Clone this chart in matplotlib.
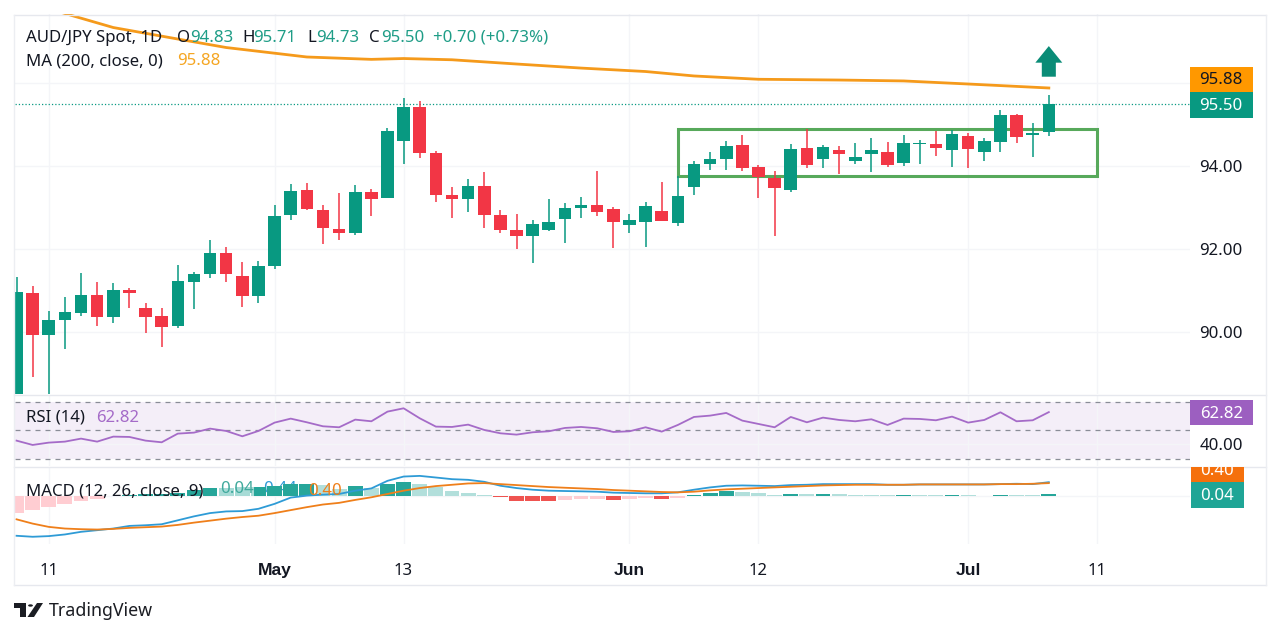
import numpy as np
import matplotlib
matplotlib.use("Agg")
import matplotlib.pyplot as plt
from matplotlib.patches import Circle, FancyArrow, Polygon, Rectangle

plt.rcParams['font.family'] = ['Noto Sans', 'DejaVu Sans']

W, H = 1280, 636

# daily candles
opens = [88.40, 90.94, 89.92, 90.281, 90.466, 90.883, 90.361, 91.012, 90.586, 90.377,
         90.145, 91.213, 91.406, 91.904, 91.341, 90.859, 91.582, 92.811, 93.413, 92.948,
         92.474, 92.393, 93.365, 93.237, 94.602, 95.421, 94.321, 93.301, 93.205, 93.526,
         92.811, 92.458, 92.305, 92.458, 92.723, 92.996, 93.068, 92.964, 92.578, 92.642,
         92.924, 92.627, 93.494, 94.048, 94.177, 94.506, 93.976, 93.719, 93.422, 94.434,
         94.169, 94.378, 94.129, 94.289, 94.329, 94.072, 94.522, 94.522, 94.394, 94.723,
         94.337, 94.586, 95.229, 94.739, 94.83]
closes = [90.956, 89.92, 90.281, 90.49, 90.883, 90.361, 91.02, 90.94, 90.369, 90.128,
          91.237, 91.406, 91.904, 91.39, 90.875, 91.582, 92.795, 93.397, 92.956, 92.514,
          92.377, 93.365, 93.205, 94.851, 95.421, 94.321, 93.301, 93.205, 93.526, 92.811,
          92.458, 92.305, 92.594, 92.642, 92.98, 93.068, 92.891, 92.642, 92.699, 93.036,
          92.683, 93.285, 94.048, 94.177, 94.474, 93.96, 93.743, 93.47, 94.402, 94.024,
          94.458, 94.297, 94.217, 94.394, 94.024, 94.554, 94.554, 94.442, 94.779, 94.418,
          94.594, 95.229, 94.707, 94.795, 95.50]
highs = [91.333, 91.108, 90.514, 90.835, 91.414, 91.213, 91.173, 91.052, 90.707, 90.578,
         91.606, 91.454, 92.217, 92.04, 91.687, 91.719, 93.052, 93.558, 93.598, 93.052,
         93.341, 93.55, 93.446, 94.907, 95.646, 95.574, 94.369, 93.502, 93.687, 93.855,
         92.94, 92.851, 92.699, 93.197, 93.10, 93.245, 93.887, 93.02, 92.851, 93.14,
         93.614, 93.76, 94.129, 94.337, 94.61, 94.747, 94.024, 93.879, 94.538, 94.884,
         94.506, 94.474, 94.546, 94.675, 94.57, 94.739, 94.627, 94.851, 94.867, 94.803,
         94.675, 95.349, 95.253, 95.044, 95.71]
lows = [88.30, 88.924, 88.40, 89.582, 90.385, 90.145, 90.225, 90.586, 89.984, 89.647,
        90.096, 90.562, 91.293, 91.197, 90.594, 90.707, 91.518, 92.707, 92.95, 92.128,
        92.225, 92.329, 92.803, 93.221, 94.056, 94.185, 93.132, 92.755, 92.883, 92.498,
        92.393, 91.992, 91.663, 92.426, 92.136, 92.755, 92.787, 92.024, 92.393, 92.056,
        92.667, 92.554, 93.293, 93.904, 93.896, 93.888, 93.237, 92.321, 93.373, 93.944,
        93.952, 93.807, 94.048, 93.855, 93.984, 93.992, 94.056, 94.233, 93.984, 93.96,
        94.12, 94.337, 94.562, 94.225, 94.73]

# 200 day average, readings at a few candles
ma_days = [0, 3, 6, 10, 13, 18, 22, 24, 27, 31, 35, 39, 42, 46, 51, 55, 59, 64]
ma_vals = [98.05, 97.675, 97.337, 97.06, 96.855, 96.627, 96.57, 96.59, 96.56, 96.458,
           96.36, 96.277, 96.17, 96.09, 96.072, 96.05, 95.976, 95.88]

rsi_vals = [42.71, 39.65, 41.30, 42.00, 44.12, 42.00, 45.53, 45.30, 42.71, 41.53,
            47.65, 48.35, 51.18, 49.53, 45.77, 49.53, 55.41, 58.23, 55.64, 52.82,
            52.12, 57.53, 56.35, 63.17, 65.52, 58.47, 52.59, 52.35, 54.00, 50.24,
            47.88, 46.94, 48.59, 49.29, 51.65, 52.35, 51.41, 48.82, 49.29, 52.12,
            49.06, 53.76, 59.41, 60.35, 62.23, 56.82, 54.47, 52.12, 59.41, 55.64,
            58.94, 57.29, 56.35, 57.76, 53.76, 58.23, 58.00, 57.06, 59.64, 55.41,
            57.29, 62.70, 56.35, 57.06, 62.82]

macd_vals = [-1.283, -1.315, -1.294, -1.241, -1.157, -1.105, -1.052, -0.968, -0.947, -0.915,
             -0.789, -0.663, -0.558, -0.505, -0.494, -0.421, -0.263, -0.063, 0.0, 0.032,
             0.053, 0.158, 0.231, 0.473, 0.61, 0.631, 0.579, 0.526, 0.505, 0.442,
             0.316, 0.242, 0.189, 0.158, 0.147, 0.137, 0.126, 0.095, 0.084, 0.074,
             0.074, 0.105, 0.189, 0.263, 0.316, 0.326, 0.316, 0.305, 0.337, 0.347,
             0.368, 0.368, 0.368, 0.368, 0.347, 0.347, 0.358, 0.358, 0.358, 0.358,
             0.358, 0.368, 0.379, 0.368, 0.43]
signal_vals = [-0.757, -0.894, -0.999, -1.052, -1.073, -1.084, -1.063, -1.031, -1.01, -0.989,
               -0.936, -0.863, -0.80, -0.736, -0.684, -0.642, -0.558, -0.463, -0.368, -0.284,
               -0.231, -0.137, -0.053, 0.053, 0.158, 0.242, 0.305, 0.347, 0.389, 0.40,
               0.368, 0.337, 0.305, 0.274, 0.252, 0.231, 0.21, 0.179, 0.158, 0.137,
               0.116, 0.105, 0.126, 0.168, 0.20, 0.221, 0.242, 0.263, 0.284, 0.305,
               0.326, 0.337, 0.347, 0.347, 0.347, 0.347, 0.358, 0.358, 0.358, 0.358,
               0.358, 0.368, 0.368, 0.379, 0.40]
hist_vals = [-0.547, -0.452, -0.358, -0.252, -0.168, -0.105, -0.02, 0.02, 0.04, 0.06,
             0.08, 0.179, 0.24, 0.25, 0.26, 0.27, 0.30, 0.368, 0.372, 0.337,
             0.21, 0.316, 0.232, 0.368, 0.442, 0.368, 0.263, 0.137, 0.074, 0.005,
             -0.05, -0.158, -0.16, -0.165, -0.14, -0.12, -0.11, -0.13, -0.11, -0.06,
             -0.10, -0.06, 0.03, 0.08, 0.14, 0.11, 0.09, 0.03, 0.055, 0.04,
             0.06, 0.04, 0.03, 0.025, 0.005, 0.025, 0.01, 0.008, 0.02, 0.005,
             -0.01, 0.02, 0.01, 0.005, 0.04]

time_ticks = [2, 16, 24, 38, 46, 59, 67]
time_labels = ['11', 'May', '13', 'Jun', '12', 'Jul', '11']
month_labels = ['May', 'Jun', 'Jul']
price_ticks = [90, 92, 94, 96]
price_labels = ['90.00', '92.00', '94.00', '']
box_days = (41, 67)
box_prices = (93.766, 94.88)
last_close = 95.50

GREEN = '#089981'
RED = '#f23645'
GRID = '#f4f5f8'
INK = '#131722'
FS = 12.1


def px_axes(x0, y0, x1, y1):
    return fig.add_axes([x0 / W, 1 - y1 / H, (x1 - x0) / W, (y1 - y0) / H])


def px_text(x, y, s, **kw):
    kw.setdefault('fontsize', FS)
    kw.setdefault('color', INK)
    kw.setdefault('va', 'center')
    return fig.text(x / W, 1 - (y + 1) / H, s, **kw)


def tag(x0, y0, x1, y1, color, s, tcolor='white', ty=None):
    r = Rectangle((x0 / W, 1 - y1 / H), (x1 - x0) / W, (y1 - y0) / H,
                  transform=fig.transFigure, fc=color, ec='none', zorder=4)
    fig.add_artist(r)
    t = px_text((x0 + x1) / 2, ty if ty else (y0 + y1) / 2, s, color=tcolor,
                ha='center', zorder=5)
    t.set_clip_path(r)
    return t


fig = plt.figure(figsize=(W / 100, H / 100), dpi=100, facecolor='white')

days = np.arange(len(closes))
x_left = (14.5 - 16.5) / 16.13
x_right = (1190 - 16.5) / 16.13

ax = px_axes(14.5, 14, 1190, 394)
ax_rsi = px_axes(14.5, 395, 1190, 466)
ax_macd = px_axes(14.5, 467, 1190, 544)

for a in (ax, ax_rsi, ax_macd):
    a.set_xlim(x_left, x_right)
    a.set_xticks(time_ticks)
    a.grid(True, color=GRID, lw=1)
    a.set_axisbelow(True)
    a.tick_params(length=0, labelbottom=False, labelleft=False)
    for s in a.spines.values():
        s.set_visible(False)

# price pane
ax.set_ylim(88.506, 97.663)
ax.set_yticks(price_ticks)
ax.yaxis.tick_right()
ax.set_yticklabels(price_labels, fontsize=FS, color=INK)
ax.tick_params(axis='y', pad=6.5, length=0, labelright=True)

ax.add_patch(Rectangle((box_days[0], box_prices[0]), box_days[1] - box_days[0],
                       box_prices[1] - box_prices[0], fc='none', ec='#57a95b', lw=2.2, zorder=2))
ax.axhline(last_close, color=GREEN, ls=':', lw=0.9, zorder=2)

cols = [GREEN if c >= o else RED for o, c in zip(opens, closes)]
ax.vlines(days, lows, highs, colors=cols, lw=1.1, zorder=3)
ax.bar(days, np.abs(np.array(closes) - np.array(opens)), bottom=np.minimum(opens, closes),
       width=0.78, color=cols, zorder=4)
ax.plot(ma_days, ma_vals, color='#f59a1b', lw=2.0, zorder=5)

ax.add_patch(FancyArrow(days[-1], 96.152, 0, 0.738, width=0.87, head_width=1.67,
                        head_length=0.40, length_includes_head=True,
                        fc='#0a8c77', ec='none', zorder=6))

# RSI pane
ax_rsi.set_ylim(24.8, 74.9)
ax_rsi.set_yticks([40])
ax_rsi.axhspan(30, 70, color='#9c5fc0', alpha=0.1, lw=0, zorder=0)
for level in (70, 50, 30):
    ax_rsi.axhline(level, color='#8a8d97', ls=(0, (4, 4)), lw=0.9, zorder=1)
ax_rsi.plot(days, rsi_vals, color='#a56bc8', lw=1.3, zorder=3)

# MACD pane
ax_macd.set_ylim(-1.546, 0.915)
ax_macd.set_yticks([0])
ax_macd.text((263 - 14.5) / (1190 - 14.5), 0.71, '0.44', color='#2e9bd6', fontsize=FS,
             va='center', transform=ax_macd.transAxes, zorder=1)

hist_cols = []
prev = hist_vals[0] - 0.1
for v in hist_vals:
    if v >= 0:
        hist_cols.append('#26a69a' if v > prev else '#b2dfdb')
    else:
        hist_cols.append('#ffcdd2' if v > prev else '#ef5350')
    prev = v
ax_macd.bar(days, hist_vals, width=0.92, color=hist_cols, zorder=2)
ax_macd.plot(days, macd_vals, color='#2e9bd6', lw=1.3, zorder=3)
ax_macd.plot(days, signal_vals, color='#ef7f1a', lw=1.3, zorder=4)
ax_macd.text((220 - 14.5) / (1190 - 14.5), 0.71, '0.04', color='#3fa99c', fontsize=FS, va='center',
             transform=ax_macd.transAxes, zorder=5,
             bbox=dict(fc='white', ec='none', alpha=0.6, pad=0.5))

ax_macd.tick_params(axis='x', labelbottom=True, pad=14)
ax_macd.set_xticklabels(time_labels, fontsize=FS, color=INK)
for lab in ax_macd.get_xticklabels():
    if lab.get_text() in month_labels:
        lab.set_family('Liberation Sans')
        lab.set_fontweight('bold')
        lab.set_fontsize(12.6)

# frame and pane separators
for y in (14.5, 394.5, 466.5, 584.5):
    fig.add_artist(plt.Line2D([14 / W, 1266 / W], [1 - y / H, 1 - y / H], color='#e6e8ee', lw=1))
for x in (14, 1266):
    fig.add_artist(plt.Line2D([x / W, x / W], [1 - 14.5 / H, 1 - 584.5 / H], color='#eceef2', lw=1))

# legends
px_text(26, 37, 'AUD/JPY Spot, 1D')
VALUE = '#1f9d87'
for x, s, c in [(177, 'O', INK), (190, '94.83', VALUE), (242, 'H', INK), (253, '95.71', VALUE),
                (307, 'L', INK), (316, '94.73', VALUE), (369, 'C', INK), (381, '95.50', VALUE),
                (433, '+0.70 (+0.73%)', VALUE)]:
    px_text(x, 37, s, color=c)
px_text(26, 60, 'MA (200, close, 0)')
px_text(177, 60, '95.88', color='#f5a623')
px_text(26, 417, 'RSI (14)')
px_text(96, 417, '62.82', color='#a56bc8')
px_text(26, 490, 'MACD (12, 26, close, 9)')
px_text(308, 490, '0.40', color='#ef7f1a')

# price tags
tag(1190, 67, 1252.5, 92, '#ff9800', '95.88', tcolor=INK)
tag(1190, 92, 1252.5, 117.5, GREEN, '95.50')
tag(1190, 400, 1252.5, 425, '#9c5fc0', '62.82')
px_text(1221, 445, '40.00', ha='center')
tag(1191, 467, 1243.5, 482, '#f5700c', '0.40', ty=470)
tag(1191, 482, 1243.5, 507.5, '#1fa596', '0.04')

# TradingView logo
dark = '#1b1d23'
to_fig = lambda pts: [(x / W, 1 - y / H) for x, y in pts]
fig.add_artist(Polygon(to_fig([(14, 603), (26, 603), (26, 617), (20, 617), (20, 608), (14, 608)]),
                       closed=True, fc=dark, ec='none', transform=fig.transFigure))
fig.add_artist(Polygon(to_fig([(37, 603), (43, 603), (34, 617), (27.5, 617)]),
                       closed=True, fc=dark, ec='none', transform=fig.transFigure))
fig.add_artist(Circle((30.5 / W, 1 - 605.5 / H), 2.4 / W, fc=dark, ec='none',
                      transform=fig.transFigure))
px_text(49, 610, 'TradingView', fontsize=12.8, color=dark)

fig.savefig('out.png', dpi=100, facecolor='white')
